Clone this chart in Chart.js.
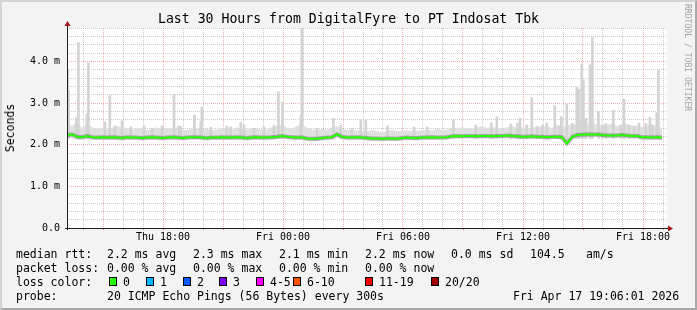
<!DOCTYPE html>
<html><head><meta charset="utf-8">
<script src="https://cdn.jsdelivr.net/npm/chart.js@4/dist/chart.umd.min.js"></script>
<style>
html,body{margin:0;padding:0;}
body{width:697px;height:310px;position:relative;background:#f3f3f3;overflow:hidden;font-family:"DejaVu Sans Mono",monospace;color:#000;}
#c{position:absolute;left:0;top:0;}
#frame{position:absolute;left:0;top:0;width:693px;height:306px;border:2px solid;border-color:#d4d4d4 #a8a8a8 #a8a8a8 #d4d4d4;pointer-events:none;}
#title{position:absolute;left:0;width:697px;top:11px;text-align:center;font-size:13.2px;line-height:16px;white-space:pre;}
#ylab{position:absolute;left:10px;top:128px;font-size:11.5px;line-height:14px;white-space:pre;transform:translate(-50%,-50%) rotate(-90deg);}
#rrd{position:absolute;left:683px;top:4px;font-size:8.1px;line-height:9px;color:#a4a4a4;writing-mode:vertical-rl;white-space:pre;}
.t{position:absolute;white-space:pre;font-size:11.5px;line-height:14px;}
.box{position:absolute;width:6px;height:7px;border:1px solid #000;}
</style>
</head><body>
<canvas id="c" width="697" height="310"></canvas>
<div id="title">Last 30 Hours from DigitalFyre to PT Indosat Tbk</div>
<div id="ylab">Seconds</div>
<div id="rrd">RRDTOOL / TOBI OETIKER</div>
<div id="legend"></div>
<div id="frame"></div>
<script>
// ---- data (time in hours since Thu 00:00, values in ms) ----
const startHour = 13.2;
const endHour = 43.2;
const stepHours = 0.25;
const medianRtt = [
 2.22,2.25,2.19,2.18,2.21,2.18,2.17,2.18,2.17,2.18,
 2.17,2.16,2.18,2.17,2.17,2.16,2.17,2.18,2.17,2.16,
 2.17,2.18,2.17,2.16,2.17,2.18,2.18,2.17,2.16,2.17,
 2.17,2.18,2.17,2.17,2.18,2.17,2.16,2.17,2.18,2.17,
 2.17,2.18,2.19,2.21,2.19,2.18,2.17,2.17,2.15,2.14,
 2.14,2.16,2.17,2.18,2.25,2.19,2.17,2.17,2.18,2.17,
 2.16,2.15,2.15,2.14,2.15,2.15,2.14,2.16,2.17,2.16,
 2.16,2.17,2.17,2.18,2.17,2.17,2.18,2.20,2.21,2.20,
 2.21,2.21,2.20,2.21,2.21,2.20,2.21,2.21,2.22,2.21,
 2.20,2.19,2.19,2.20,2.19,2.19,2.18,2.19,2.19,2.18,
 2.03,2.18,2.23,2.24,2.25,2.24,2.25,2.23,2.22,2.22,
 2.22,2.23,2.22,2.21,2.21,2.18,2.18,2.17,2.18,2.17
];
const smokeHigh = [
 2.50,2.45,2.55,2.40,2.50,2.42,2.38,2.40,2.36,2.40,
 2.45,2.42,2.40,2.36,2.38,2.40,2.35,2.37,2.42,2.36,
 2.40,2.38,2.42,2.36,2.35,2.38,2.40,2.36,2.38,2.35,
 2.36,2.40,2.38,2.35,2.42,2.38,2.36,2.40,2.38,2.35,
 2.36,2.42,2.45,2.48,2.40,2.38,2.45,2.50,2.40,2.36,
 2.35,2.38,2.36,2.42,2.45,2.38,2.35,2.36,2.34,2.33,
 2.32,2.35,2.33,2.30,2.32,2.35,2.32,2.33,2.35,2.32,
 2.33,2.35,2.36,2.34,2.38,2.35,2.36,2.40,2.38,2.42,
 2.40,2.38,2.42,2.45,2.40,2.42,2.40,2.38,2.42,2.45,
 2.40,2.42,2.38,2.40,2.45,2.42,2.44,2.40,2.48,2.45,
 2.45,2.50,2.48,2.55,2.50,2.52,2.48,2.45,2.48,2.50,
 2.45,2.48,2.50,2.46,2.45,2.42,2.45,2.48,2.44,2.40
];
const smokeLow = [
 2.14,2.16,2.12,2.12,2.13,2.12,2.11,2.12,2.11,2.12,
 2.11,2.10,2.12,2.11,2.11,2.10,2.11,2.12,2.11,2.10,
 2.11,2.12,2.11,2.10,2.11,2.12,2.12,2.11,2.10,2.11,
 2.11,2.12,2.11,2.11,2.12,2.11,2.10,2.11,2.12,2.11,
 2.11,2.12,2.13,2.14,2.13,2.12,2.11,2.11,2.09,2.08,
 2.08,2.10,2.11,2.12,2.17,2.13,2.11,2.11,2.12,2.11,
 2.10,2.09,2.09,2.08,2.09,2.09,2.08,2.10,2.11,2.10,
 2.10,2.11,2.11,2.12,2.11,2.11,2.12,2.14,2.15,2.14,
 2.15,2.15,2.14,2.15,2.15,2.14,2.15,2.15,2.16,2.15,
 2.14,2.13,2.13,2.14,2.13,2.13,2.12,2.13,2.13,2.11,
 1.99,2.12,2.17,2.18,2.19,2.18,2.19,2.17,2.16,2.16,
 2.16,2.17,2.16,2.15,2.15,2.12,2.12,2.11,2.12,2.11
];
const spikeTimes = [
 13.24,13.28,13.67,13.77,14.19,14.27,15.34,15.59,15.95,17.05,
 17.95,18.55,18.80,19.57,19.94,20.39,21.19,21.89,22.05,23.77,
 23.97,24.89,24.94,26.52,27.89,29.22,30.55,31.22,32.52,33.64,
 34.42,34.69,35.39,35.85,36.19,36.44,37.19,37.59,37.92,38.19,
 38.69,38.80,38.94,39.02,39.35,39.47,39.77,40.14,40.52,41.05,
 41.30,41.80,42.35,42.69,42.77,
 15.10,16.39,17.45,18.89,19.89,21.39,22.55,23.05,23.55,25.70,
 26.89,27.45,28.14,35.72,36.72,36.97,37.80,38.47,39.14,39.97,
 40.89,41.55,42.14,42.47
];
const spikeMax = [
 3.80,3.30,2.65,4.45,2.74,3.96,3.18,2.45,2.57,2.45,
 2.45,3.21,2.45,2.71,2.90,2.42,2.45,2.53,2.48,3.27,
 3.02,2.69,4.79,2.63,2.60,2.45,2.42,2.42,2.59,2.47,
 2.53,2.67,2.50,2.64,2.47,3.13,2.52,2.93,2.67,2.97,
 3.38,3.33,3.94,3.56,3.92,4.57,2.79,2.50,2.83,3.10,
 2.45,2.52,2.65,2.77,3.79,
 2.55,2.43,2.39,2.43,2.55,2.43,2.39,2.43,2.47,2.39,
 2.47,2.39,2.59,2.51,2.43,2.47,2.43,2.51,2.63,2.47,
 2.47,2.43,2.51,2.47
];
const spikeFloor = 2.15;
const yTickValues = [0, 1, 2, 3, 4];
const yTickLabels = ['0.0', '1.0 m', '2.0 m', '3.0 m', '4.0 m'];
const xTickHours = [18, 24, 30, 36, 42];
const xTickLabels = ['Thu 18:00', 'Fri 00:00', 'Fri 06:00', 'Fri 12:00', 'Fri 18:00'];
const lossColors = ['#26ff00', '#00b8ff', '#0059ff', '#7e00ff', '#ff00ff', '#ff5500', '#ff0000', '#a10000'];
const lossLabels = ['0', '1', '2', '3', '4-5', '6-10', '11-19', '20/20'];

// ---- build ----
const times = medianRtt.map((_, i) => startHour + i * stepHours);
const pts = arr => arr.map((v, i) => ({x: times[i], y: v}));
const spikes = spikeTimes.map((t, i) => ({x: t, y: [spikeFloor, spikeMax[i]]}));
const hourTicks = [];
for (let h = Math.ceil(startHour); h <= Math.floor(endHour); h++) hourTicks.push({value: h});

const MINOR = 'rgba(143,143,143,0.45)';
const MAJOR = 'rgba(222,80,80,0.45)';
const isInt = v => Math.abs(v - Math.round(v)) < 1e-6;

const plotBg = {
  id: 'plotBg',
  beforeDraw(chart) {
    const a = chart.chartArea, ctx = chart.ctx;
    ctx.save(); ctx.fillStyle = '#ffffff';
    ctx.fillRect(a.left, a.top, a.right - a.left, a.bottom - a.top);
    ctx.restore();
  }
};
const axes = {
  id: 'axes',
  afterDatasetsDraw(chart) {
    const a = chart.chartArea, ctx = chart.ctx;
    const xs = chart.scales.x;
    ctx.save();
    ctx.lineWidth = 1;
    hourTicks.forEach(t => {
      const px = Math.round(xs.getPixelForValue(t.value)) + 0.5;
      ctx.strokeStyle = (t.value % 3 === 0) ? 'rgba(222,80,80,0.8)' : 'rgba(120,120,120,0.7)';
      ctx.beginPath(); ctx.moveTo(px, a.bottom); ctx.lineTo(px, a.bottom + 2); ctx.stroke();
    });
    ctx.strokeStyle = '#202020';
    ctx.beginPath();
    ctx.moveTo(a.left - 2, a.bottom + 0.5); ctx.lineTo(a.right + 2, a.bottom + 0.5);
    ctx.moveTo(a.left + 0.5, a.bottom + 2); ctx.lineTo(a.left + 0.5, a.top - 3);
    ctx.stroke();
    ctx.fillStyle = '#a01414';
    ctx.beginPath();
    ctx.moveTo(a.right + 6, a.bottom + 0.5); ctx.lineTo(a.right + 1, a.bottom - 2.5); ctx.lineTo(a.right + 1, a.bottom + 3.5); ctx.closePath();
    ctx.fill();
    ctx.beginPath();
    ctx.moveTo(a.left + 0.5, a.top - 7); ctx.lineTo(a.left - 2.5, a.top - 2); ctx.lineTo(a.left + 3.5, a.top - 2); ctx.closePath();
    ctx.fill();
    ctx.restore();
  }
};

new Chart(document.getElementById('c'), {
  type: 'line',
  data: {
    datasets: [
      {data: pts(smokeHigh), borderWidth: 0, pointRadius: 0, fill: '+1', backgroundColor: '#e0e0e0', order: 5},
      {data: pts(smokeLow), borderWidth: 0, pointRadius: 0, fill: false, order: 5},
      {type: 'bar', data: spikes, backgroundColor: '#d3d3d3', borderWidth: 0, barThickness: 2, order: 4},
      {data: pts(medianRtt), borderColor: 'rgba(60,60,60,0.35)', borderWidth: 4, pointRadius: 0, fill: false, order: 2},
      {data: pts(medianRtt), borderColor: lossColors[0], borderWidth: 2, pointRadius: 0, fill: false, order: 1}
    ]
  },
  options: {
    responsive: false, devicePixelRatio: 1, animation: false,
    layout: {padding: {left: 0, top: 28, right: 30, bottom: 62}},
    plugins: {legend: {display: false}, tooltip: {enabled: false}, title: {display: false}},
    scales: {
      x: {
        type: 'linear', min: startHour, max: endHour, offset: false,
        afterFit: s => { s.height = 20; },
        afterBuildTicks: s => { s.ticks = hourTicks.map(t => ({value: t.value})); },
        grid: {drawTicks: false, offset: false, lineWidth: 1,
          color: c => { const v = c.tick.value; if (!isInt(v)) return 'rgba(0,0,0,0)'; return Math.round(v) % 3 === 0 ? MAJOR : MINOR; }},
        border: {display: false, dash: [1, 1]},
        ticks: {autoSkip: false, maxRotation: 0, padding: 3, color: '#000',
          font: {family: 'DejaVu Sans Mono', size: 10},
          callback: v => { const i = xTickHours.findIndex(h => Math.abs(h - v) < 1e-6); return i >= 0 ? xTickLabels[i] : ''; }}
      },
      y: {
        min: 0, max: 4.8,
        afterFit: s => { s.width = 67; },
        grid: {drawTicks: false, lineWidth: 1,
          color: c => { const v = c.tick.value; if (v < 0.01) return 'rgba(0,0,0,0)'; return isInt(v) ? MAJOR : MINOR; }},
        border: {display: false, dash: [1, 1]},
        ticks: {stepSize: 0.2, autoSkip: false, padding: 7, color: '#000',
          font: {family: 'DejaVu Sans Mono', size: 10},
          callback: v => { const i = yTickValues.findIndex(h => Math.abs(h - v) < 1e-6); return i >= 0 ? yTickLabels[i] : ''; }}
      }
    }
  },
  plugins: [plotBg, axes]
});

// ---- legend text ----
const legendRows = [
  [247, [[16, 'median rtt:'], [107, '2.2 ms avg'], [193, '2.3 ms max'], [279, '2.1 ms min'], [365, '2.2 ms now'], [451, '0.0 ms sd'], [530, '104.5'], [586, 'am/s']]],
  [261, [[16, 'packet loss:'], [107, '0.00 % avg'], [193, '0.00 % max'], [279, '0.00 % min'], [365, '0.00 % now']]],
  [275, [[16, 'loss color:']]],
  [289, [[16, 'probe:'], [107, '20 ICMP Echo Pings (56 Bytes) every 300s'], [513, 'Fri Apr 17 19:06:01 2026']]]
];
const boxX = [109, 146, 183, 219, 256, 293, 365, 431];
const lg = document.getElementById('legend');
legendRows.forEach(([top, items]) => items.forEach(([x, txt]) => {
  const s = document.createElement('div'); s.className = 't';
  s.style.left = x + 'px'; s.style.top = top + 'px'; s.textContent = txt; lg.appendChild(s);
}));
lossColors.forEach((col, i) => {
  const b = document.createElement('div'); b.className = 'box';
  b.style.left = boxX[i] + 'px'; b.style.top = '277px'; b.style.background = col; lg.appendChild(b);
  const s = document.createElement('div'); s.className = 't';
  s.style.left = (boxX[i] + 14) + 'px'; s.style.top = '275px'; s.textContent = lossLabels[i]; lg.appendChild(s);
});
</script>
</body></html>
